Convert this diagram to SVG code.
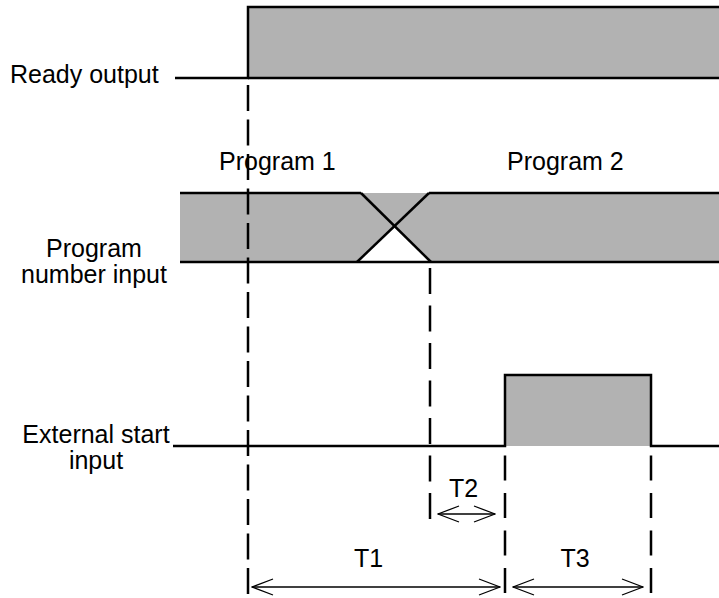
<svg xmlns="http://www.w3.org/2000/svg" width="719" height="598" viewBox="0 0 719 598">
  <style>
    .lbl { font-family: "Liberation Sans", Arial, sans-serif; font-size: 25px; fill: #000; }
    .sig { fill: #b2b2b2; stroke: none; }
    .edge { fill: none; stroke: #000; stroke-width: 2.5; }
    .guide { fill: none; stroke: #000; stroke-width: 2.5; }
    .dim { fill: none; stroke: #000; stroke-width: 1.3; }
  </style>
  <defs>
    <marker id="vhead" markerUnits="userSpaceOnUse" viewBox="0 0 23 18" refX="22" refY="9" markerWidth="23" markerHeight="18" orient="auto-start-reverse">
      <path d="M1,1 L22,9 L1,17" fill="none" stroke="#000" stroke-width="1.3"/>
    </marker>
  </defs>
  <rect width="719" height="598" fill="#fff"/>

  <g id="ready-output">
    <rect class="sig" x="248" y="7" width="475" height="71"/>
    <polyline class="edge" points="175,78 248,78 248,7 722,7"/>
    <line class="edge" x1="248" y1="78" x2="722" y2="78"/>
    <text class="lbl" x="10" y="83">Ready output</text>
  </g>

  <g id="program-number-input">
    <rect class="sig" x="180" y="193" width="543" height="69"/>
    <polygon points="357,262 395,227 431,262" fill="#fff"/>
    <line class="edge" x1="180" y1="193" x2="361" y2="193"/>
    <line class="edge" x1="429" y1="193" x2="722" y2="193"/>
    <line class="edge" x1="180" y1="262" x2="722" y2="262"/>
    <line class="edge" x1="361" y1="193" x2="431" y2="262"/>
    <line class="edge" x1="357" y1="262" x2="429" y2="193"/>
    <text class="lbl" x="94" y="257" text-anchor="middle">Program</text>
    <text class="lbl" x="94" y="283" text-anchor="middle">number input</text>
    <text class="lbl" x="219" y="170">Program 1</text>
    <text class="lbl" x="507" y="170">Program 2</text>
  </g>

  <g id="external-start-input">
    <rect class="sig" x="505" y="375" width="146" height="71"/>
    <polyline class="edge" points="173,446 505,446 505,375 651,375 651,446 722,446"/>
    <text class="lbl" x="96" y="443" text-anchor="middle">External start</text>
    <text class="lbl" x="96" y="469" text-anchor="middle">input</text>
  </g>

  <g id="connectors">
    <line class="guide" x1="248" y1="85" x2="248" y2="594" stroke-dasharray="26 8.5"/>
    <line class="guide" x1="430" y1="268" x2="430" y2="520" stroke-dasharray="26 11.5"/>
    <line class="guide" x1="505" y1="455.5" x2="505" y2="593" stroke-dasharray="25 12.5"/>
    <line class="guide" x1="651" y1="455.5" x2="651" y2="593" stroke-dasharray="25 12.5"/>
    <line class="dim" x1="438" y1="514" x2="495" y2="514" marker-start="url(#vhead)" marker-end="url(#vhead)"/>
    <line class="dim" x1="252" y1="587" x2="500" y2="587" marker-start="url(#vhead)" marker-end="url(#vhead)"/>
    <line class="dim" x1="513" y1="587" x2="643" y2="587" marker-start="url(#vhead)" marker-end="url(#vhead)"/>
    <text class="lbl" x="368.5" y="567" text-anchor="middle">T1</text>
    <text class="lbl" x="463.5" y="497" text-anchor="middle">T2</text>
    <text class="lbl" x="575" y="567" text-anchor="middle">T3</text>
  </g>
</svg>
